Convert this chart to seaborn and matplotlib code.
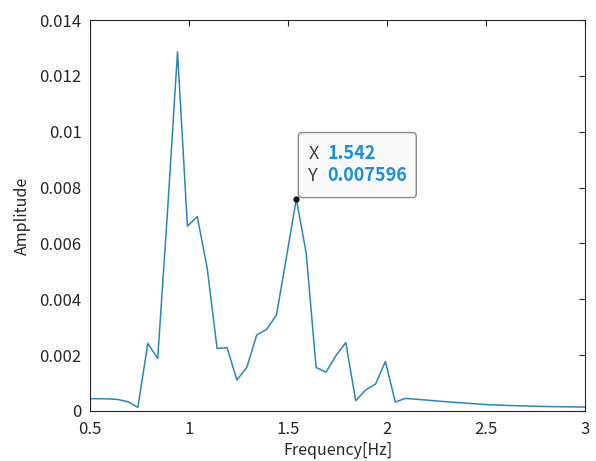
import matplotlib
matplotlib.use("Agg")
import matplotlib.pyplot as plt
import matplotlib.transforms as mtransforms
from matplotlib.patches import FancyBboxPatch
import seaborn as sns
import pandas as pd

# spectrum
freq = [0.5, 0.55, 0.6, 0.642, 0.692, 0.742, 0.792, 0.842, 0.892, 0.942,
        0.992, 1.042, 1.092, 1.142, 1.192, 1.242, 1.292, 1.342, 1.392, 1.442,
        1.492, 1.542, 1.592, 1.642, 1.692, 1.742, 1.792, 1.842, 1.892, 1.942,
        1.992, 2.042, 2.092, 2.2, 2.3, 2.4, 2.5, 2.6, 2.7, 2.8, 2.9, 3.0]
amp = [0.00044, 0.00044, 0.00043, 0.00041, 0.00033, 0.00013, 0.00242, 0.00188, 0.0072, 0.01286,
       0.00662, 0.00696, 0.00511, 0.00224, 0.00227, 0.00111, 0.00156, 0.00272, 0.00292, 0.00344,
       0.0055, 0.007596, 0.00565, 0.00156, 0.00139, 0.00198, 0.00245, 0.00037, 0.00075, 0.00096,
       0.00177, 0.00032, 0.00045, 0.00039, 0.00033, 0.00028, 0.00023, 0.0002, 0.00018, 0.00016,
       0.00015, 0.00014]

peak_x = 1.542
peak_y = 0.007596

xticks = [0.5, 1, 1.5, 2, 2.5, 3]
xtick_labels = ["0.5", "1", "1.5", "2", "2.5", "3"]
yticks = [0, 0.002, 0.004, 0.006, 0.008, 0.01, 0.012, 0.014]
ytick_labels = ["0", "0.002", "0.004", "0.006", "0.008", "0.01", "0.012", "0.014"]

df = pd.DataFrame({"Frequency": freq, "Amplitude": amp})

sns.set_style("white")
plt.rcParams["font.family"] = ["Noto Sans CJK JP", "DejaVu Sans"]
plt.rcParams["xtick.direction"] = "in"
plt.rcParams["ytick.direction"] = "in"

ink = "#262626"
fig = plt.figure(figsize=(5.96, 4.61), dpi=100)
ax = fig.add_axes([0.151, 0.1085, 0.8305, 0.848])

sns.lineplot(data=df, x="Frequency", y="Amplitude", ax=ax, color="#2b86b6", lw=1.1)

ax.set_xlim(0.5, 3)
ax.set_ylim(0, 0.014)
ax.set_xticks(xticks)
ax.set_xticklabels(xtick_labels)
ax.set_yticks(yticks)
ax.set_yticklabels(ytick_labels)
ax.tick_params(axis="both", labelsize=12, colors=ink, length=4, width=0.8,
               top=True, right=True)
ax.tick_params(axis="x", pad=7)
ax.tick_params(axis="y", pad=6)
for s in ax.spines.values():
    s.set_color(ink)
    s.set_linewidth(0.8)
ax.set_xlabel("Frequency[Hz]", fontsize=11.5, color=ink, labelpad=3)
ax.set_ylabel("Amplitude", fontsize=11.5, color=ink, labelpad=6)

# data tip
ax.plot([peak_x], [peak_y], "o", color="#111111", ms=3.5, zorder=5)
trans = fig.dpi_scale_trans + mtransforms.ScaledTranslation(peak_x, peak_y, ax.transData)
box = FancyBboxPatch((0.02, 0.013), 1.18, 0.65, boxstyle="round,pad=0,rounding_size=0.04",
                     transform=trans, fc="#f9f9f9", ec="#8a8a8a", lw=1, zorder=6)
ax.add_patch(box)
ax.text(0.12, 0.45, "X", transform=trans, fontsize=13, color="#404040", va="center", zorder=7)
ax.text(0.12, 0.23, "Y", transform=trans, fontsize=13, color="#404040", va="center", zorder=7)
ax.text(0.31, 0.45, f"{peak_x:.3f}", transform=trans, fontsize=13, color="#1e8fdc",
        fontweight="bold", va="center", zorder=7)
ax.text(0.31, 0.23, f"{peak_y:.6f}", transform=trans, fontsize=13, color="#1e8fdc",
        fontweight="bold", va="center", zorder=7)

fig.savefig("out.png", dpi=100)
